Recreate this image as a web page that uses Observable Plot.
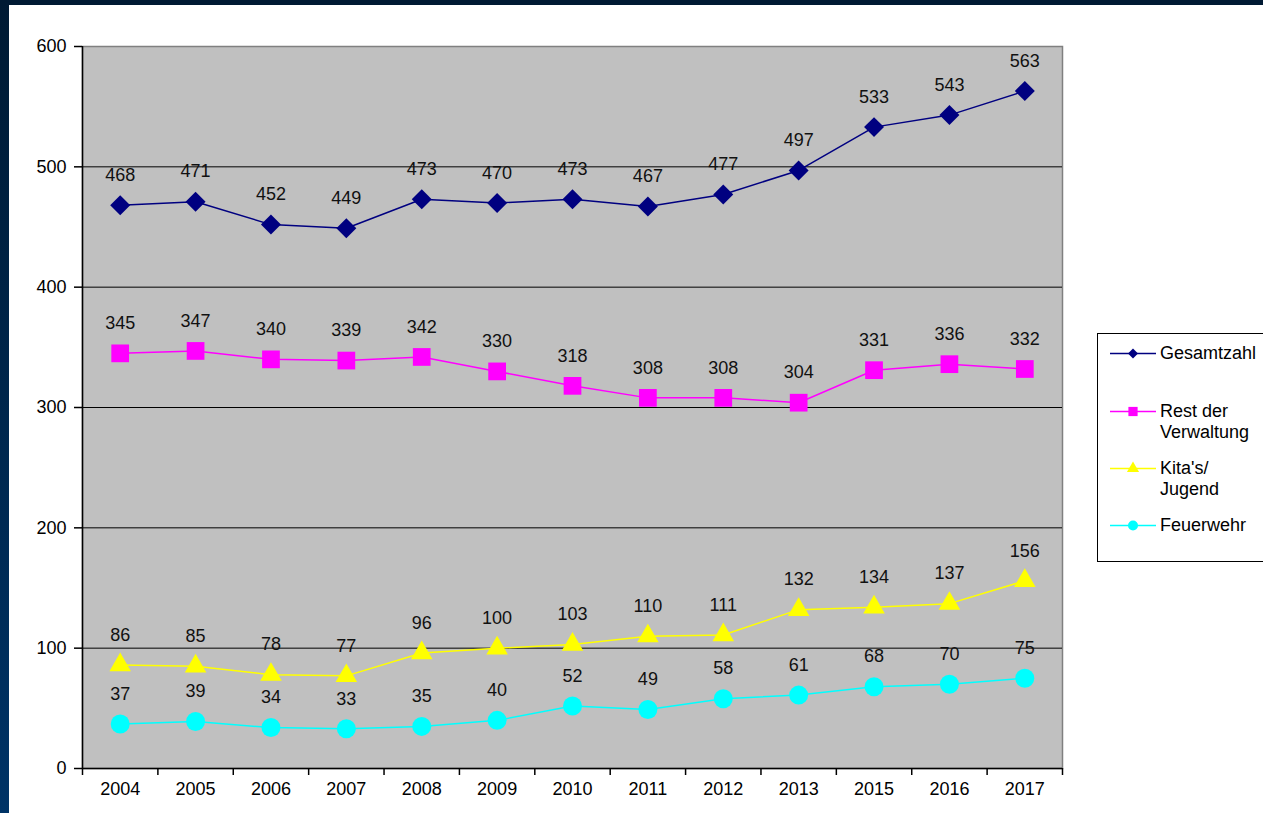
<!DOCTYPE html>
<html>
<head>
<meta charset="utf-8">
<script src="https://cdn.jsdelivr.net/npm/d3@7"></script>
<script src="https://cdn.jsdelivr.net/npm/@observablehq/plot@0.6"></script>
<style>
  html, body { margin: 0; padding: 0; background: #fff; width: 1263px; height: 813px; overflow: hidden; font-family: "Liberation Sans", Arial, sans-serif; }
  #topbar { position: absolute; left: 0; top: 0; width: 1263px; height: 5px; background: #001a33; }
  #leftbar { position: absolute; left: 0; top: 0; width: 9px; height: 813px; background: linear-gradient(#001a33, #003366); }
  #chart { position: absolute; left: 0; top: 0; }
  #legend { position: absolute; left: 1097px; top: 333px; width: 180px; height: 229px; border: 1px solid #000; background: #fff; box-sizing: border-box; }
  .entry { position: absolute; left: 12px; display: flex; align-items: flex-start; font-size: 18px; line-height: 21px; color: #000; }
  .entry svg { flex: none; margin-right: 4px; }
</style>
</head>
<body>
<div id="chart"></div>
<div id="topbar"></div>
<div id="leftbar"></div>
<div id="legend"></div>
<script>
const years = ["2004","2005","2006","2007","2008","2009","2010","2011","2012","2013","2015","2016","2017"];
const gesamtzahl = [468,471,452,449,473,470,473,467,477,497,533,543,563];
const restVerwaltung = [345,347,340,339,342,330,318,308,308,304,331,336,332];
const kitaJugend = [86,85,78,77,96,100,103,110,111,132,134,137,156];
const feuerwehr = [37,39,34,33,35,40,52,49,58,61,68,70,75];
const yTicks = [0,100,200,300,400,500,600];

const series = [
  {name: "Gesamtzahl", values: gesamtzahl, color: "#000080", symbol: "diamond2", r: 9, lr: 4.5, lines: ["Gesamtzahl"]},
  {name: "Rest der Verwaltung", values: restVerwaltung, color: "#ff00ff", symbol: "square", r: 10, lr: 5.2, lines: ["Rest der", "Verwaltung"]},
  {name: "Kita's/ Jugend", values: kitaJugend, color: "#ffff00", symbol: "triangle", r: 8, lr: 4.5, lines: ["Kita's/", "Jugend"]},
  {name: "Feuerwehr", values: feuerwehr, color: "#00ffff", symbol: "circle", r: 9.5, lr: 5, lines: ["Feuerwehr"]}
];

const idx = years.map((_, i) => i);
const bounds = d3.range(-0.5, years.length, 1);

const marks = [
  Plot.frame({fill: "#c0c0c0", stroke: "#808080", strokeWidth: 1.5}),
  Plot.ruleY(yTicks.filter(t => t > 0 && t < 600), {stroke: "#000", strokeWidth: 1}),
  Plot.ruleY([0], {stroke: "#000", strokeWidth: 1.5}),
  Plot.ruleX([-0.5], {stroke: "#000", strokeWidth: 1.5}),
  Plot.axisY(yTicks, {tickSize: 8, tickPadding: 8, fontSize: 18, stroke: "#000", strokeWidth: 1.5, label: null}),
  Plot.axisX(bounds, {tickSize: 7, tickFormat: () => "", stroke: "#000", strokeWidth: 1.5, label: null}),
  Plot.axisX(idx, {tickSize: 0, tickPadding: 14, tickFormat: i => years[i], fontSize: 18, label: null})
];

for (const s of series) {
  const data = s.values.map((v, i) => ({i, v}));
  marks.push(Plot.line(data, {x: "i", y: "v", stroke: s.color, strokeWidth: 1.5}));
  marks.push(Plot.dot(data, {x: "i", y: "v", symbol: () => s.symbol, fill: s.color, stroke: "none", r: s.r}));
  marks.push(Plot.text(data, {x: "i", y: "v", text: d => String(d.v), dy: -30, fontSize: 18, fill: "#111"}));
}

const plot = Plot.plot({
  width: 1263,
  height: 813,
  marginLeft: 82,
  marginTop: 46,
  marginRight: 201,
  marginBottom: 45,
  style: {fontFamily: "'Liberation Sans', Arial, sans-serif", fontSize: "18px", background: "transparent", color: "#000"},
  x: {domain: [-0.5, years.length - 0.5], axis: null, label: null},
  y: {domain: [0, 600], axis: null, label: null},
  marks
});
document.getElementById("chart").appendChild(plot);

// Legend
const legend = document.getElementById("legend");
const tops = [9, 67, 124, 181];
series.forEach((s, k) => {
  const e = document.createElement("div");
  e.className = "entry";
  e.style.top = tops[k] + "px";
  const sw = d3.create("svg").attr("width", 46).attr("height", 21);
  sw.append("line").attr("x1", 0).attr("x2", 46).attr("y1", 10.5).attr("y2", 10.5).attr("stroke", s.color).attr("stroke-width", 1.5);
  const symMap = {diamond2: d3.symbolDiamond2, square: d3.symbolSquare, triangle: d3.symbolTriangle, circle: d3.symbolCircle};
  sw.append("path").attr("transform", "translate(23,10.5)").attr("fill", s.color)
    .attr("d", d3.symbol(symMap[s.symbol], Math.PI * s.lr * s.lr)());
  e.appendChild(sw.node());
  const t = document.createElement("div");
  t.innerHTML = s.lines.join("<br>");
  e.appendChild(t);
  legend.appendChild(e);
});
</script>
</body>
</html>
